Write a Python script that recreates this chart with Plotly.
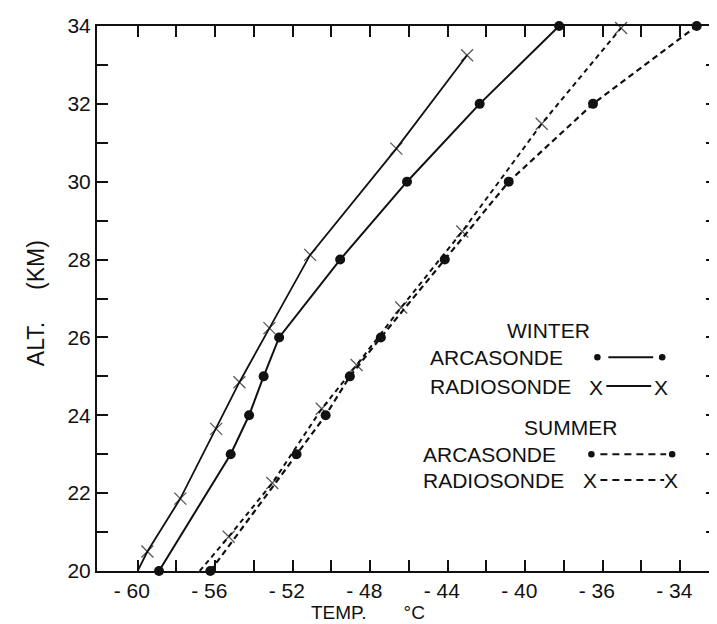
import plotly.graph_objects as go

# ---- data ----
winter_arc_alt = [20, 23, 24, 25, 26, 28, 30, 32, 34]
winter_arc_temp = [-58.9, -55.2, -54.25, -53.5, -52.7, -49.55, -46.1, -42.35, -38.25]

winter_rad_alt = [20.0, 20.5, 21.86, 23.65, 24.85, 26.24, 28.12, 30.85, 33.25]
winter_rad_temp = [-60.0, -59.5, -57.8, -55.95, -54.75, -53.2, -51.1, -46.65, -43.0]

summer_arc_alt = [20, 23, 24, 25, 26, 28, 30, 32, 34]
summer_arc_temp = [-56.25, -51.8, -50.3, -49.05, -47.45, -44.15, -40.85, -36.5, -31.15]

summer_rad_alt = [20.0, 20.88, 22.26, 24.17, 25.29, 26.77, 28.72, 31.49, 33.95]
summer_rad_temp = [-56.8, -55.3, -53.05, -50.5, -48.7, -46.4, -43.25, -39.15, -35.05]

x_tick_vals = [-60, -58, -56, -54, -52, -50, -48, -46, -44, -42, -40, -38, -36, -34, -32]
x_tick_text = ["-60", "", "-56", "", "-52", "", "-48", "", "-44", "", "-40", "", "-36", "", "-34"]
y_tick_vals = [20, 21, 22, 23, 24, 25, 26, 27, 28, 29, 30, 31, 32, 33, 34]
y_tick_text = ["20", "", "22", "", "24", "", "26", "", "28", "", "30", "", "32", "", "34"]

FONT = "Liberation Sans"
BLACK = "#111111"
SP = "\u2008"  # punctuation space: the lettering leaves a gap after the minus sign


def spaced(label):
    # minus sign set apart from the digits, digits centred on the tick
    if label.startswith("-"):
        return "-" + SP + label[1:] + SP + SP
    return label


fig = go.Figure()


def rad_sizes(n):
    # first point is where the line leaves the axis (no symbol there)
    return [0] + [12] * (n - 1)


fig.add_trace(go.Scatter(
    x=winter_arc_temp, y=winter_arc_alt, mode="lines+markers",
    line=dict(color=BLACK, width=2),
    marker=dict(symbol="circle", size=10, color=BLACK),
    name="Winter Arcasonde", showlegend=False, cliponaxis=False))
fig.add_trace(go.Scatter(
    x=winter_rad_temp, y=winter_rad_alt, mode="lines+markers",
    line=dict(color=BLACK, width=1.8),
    marker=dict(symbol="x-thin-open", size=rad_sizes(len(winter_rad_alt)),
                line=dict(color=BLACK, width=1.3)),
    name="Winter Radiosonde", showlegend=False, cliponaxis=False))
fig.add_trace(go.Scatter(
    x=summer_arc_temp, y=summer_arc_alt, mode="lines+markers",
    line=dict(color=BLACK, width=2.2, dash="6px,4px"),
    marker=dict(symbol="circle", size=10, color=BLACK),
    name="Summer Arcasonde", showlegend=False, cliponaxis=False))
fig.add_trace(go.Scatter(
    x=summer_rad_temp, y=summer_rad_alt, mode="lines+markers",
    line=dict(color=BLACK, width=2.0, dash="5px,4px"),
    marker=dict(symbol="x-thin-open", size=rad_sizes(len(summer_rad_alt)),
                line=dict(color=BLACK, width=1.3)),
    name="Summer Radiosonde", showlegend=False, cliponaxis=False))

L, R, T, B = 89, 6, 12, 61
PW = 717 - L - R
PH = 624 - T - B


def px(xp):
    return (xp - L) / PW


def py(yp):
    return (624 - B - yp) / PH


ann = []


def text(s, xp, yp, xanchor="left", size=21, **kw):
    ann.append(dict(text=s, x=px(xp), y=py(yp), xref="paper", yref="paper",
                    xanchor=xanchor, yanchor="middle", showarrow=False,
                    font=dict(family=FONT, size=size, color=BLACK), **kw))


# legend block
text("WINTER", 542, 320, xanchor="center")
text("ARCASONDE", 421, 347)
text("RADIOSONDE", 421, 376)
text("X", 590, 377, xanchor="center")
text("X", 655, 377, xanchor="center")
text("SUMMER", 564, 418, xanchor="center")
text("ARCASONDE", 414, 445)
text("RADIOSONDE", 414, 471)
text("X", 584, 472, xanchor="center")
text("X", 665, 472, xanchor="center")

# axis titles
text("TEMP.&nbsp;&nbsp;&nbsp;&nbsp;&nbsp;&nbsp;&nbsp;°C", 302, 605, size=19)
ann.append(dict(text="ALT.&nbsp;&nbsp;&nbsp;&nbsp;&nbsp;(KM)", x=px(28), y=py(292),
                xref="paper", yref="paper",
                xanchor="center", yanchor="middle", showarrow=False, textangle=-90,
                font=dict(family=FONT, size=23, color=BLACK)))

shapes = []


def dot(xp, yp, r=3.3):
    shapes.append(dict(type="circle", xref="paper", yref="paper",
                       x0=px(xp - r), x1=px(xp + r), y0=py(yp + r), y1=py(yp - r),
                       fillcolor=BLACK, line=dict(width=0)))


def seg(x0, x1, yp, dash="solid", w=2):
    shapes.append(dict(type="line", xref="paper", yref="paper",
                       x0=px(x0), x1=px(x1), y0=py(yp), y1=py(yp),
                       line=dict(color=BLACK, width=w, dash=dash)))


dot(591, 347); seg(602, 647, 347); dot(656, 347)
seg(600, 645, 376)
dot(585, 445); seg(594, 660, 445, dash="7px,5px"); dot(666, 445)
seg(594, 658, 471, dash="7px,5px")

axis_common = dict(showline=True, linecolor=BLACK, linewidth=2, mirror="ticks",
                   ticks="inside", ticklen=11, tickwidth=2, tickcolor=BLACK,
                   showgrid=False, zeroline=False, ticklabeloverflow="allow",
                   tickfont=dict(family=FONT, size=21, color=BLACK))

fig.update_layout(
    width=717, height=624,
    margin=dict(l=L, r=R, t=T, b=B),
    paper_bgcolor="white", plot_bgcolor="white",
    xaxis=dict(range=[-62.1, -30.1], tickmode="array", tickvals=x_tick_vals,
               ticktext=[spaced(t) for t in x_tick_text], **axis_common),
    yaxis=dict(range=[20, 34], tickmode="array", tickvals=y_tick_vals,
               ticktext=y_tick_text, **axis_common),
    annotations=ann, shapes=shapes, showlegend=False,
)

fig.write_html("out.html")
